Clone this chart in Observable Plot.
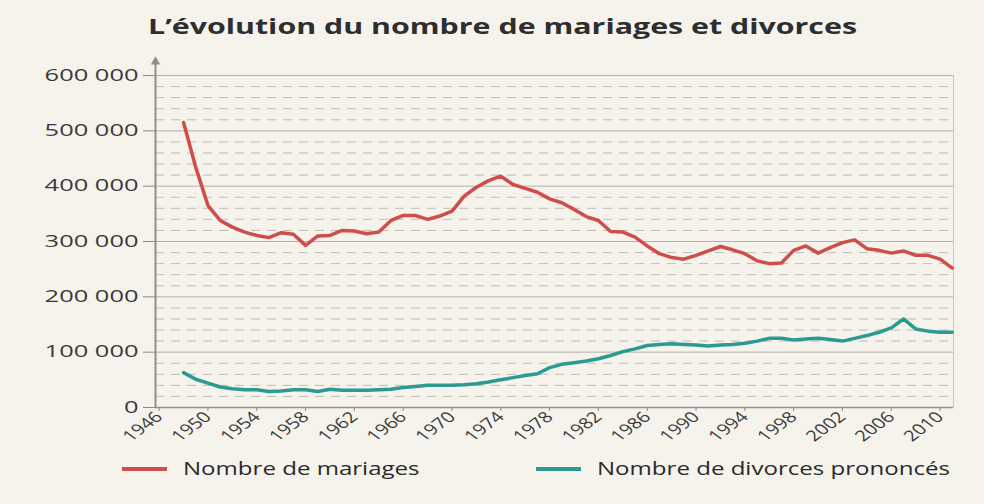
<!DOCTYPE html>
<html>
<head>
<meta charset="utf-8">
<script src="https://cdn.jsdelivr.net/npm/d3@7"></script>
<script src="https://cdn.jsdelivr.net/npm/@observablehq/plot@0.6"></script>
<style>
  html, body { margin: 0; padding: 0; }
  body { width: 984px; height: 504px; overflow: hidden; background: #f5f3eb; font-family: "Open Sans", sans-serif; }
  #title { position: relative; height: 50px; }
  #title span { position: absolute; left: 148px; top: 12px; font-weight: 700; font-size: 21px; color: #2e2e2e; white-space: nowrap; transform-origin: 0 50%; }
  #chart { height: 400px; }
  #legend { position: relative; height: 54px; }
  .sw { position: absolute; height: 4px; top: 17px; }
  .lt { position: absolute; top: 5px; font-size: 18px; color: #2a2a2a; white-space: nowrap; transform-origin: 0 50%; line-height: 26px; }
</style>
</head>
<body>
<div id="title"><span id="t">L’évolution du nombre de mariages et divorces</span></div>
<div id="chart"></div>
<div id="legend"></div>
<script>
// ---- data (x positions as read on the chart's own year axis) ----
const years = [1948,1949,1950,1951,1952,1953,1954,1955,1956,1957,1958,1959,1960,1961,1962,1963,
  1964,1965,1966,1967,1968,1969,1970,1971,1972,1973,1974,1975,1976,1977,1978,1979,1980,1981,
  1982,1983,1984,1985,1986,1987,1988,1989,1990,1991,1992,1993,1994,1995,1996,1997,1998,1999,
  2000,2001,2002,2003,2004,2005,2006,2007,2008,2009,2010,2011];
const mariages = [515000,434000,365000,338000,326000,317000,311000,307000,316000,313000,293000,310000,
  311000,320000,319000,314000,317000,338000,347000,347000,340000,346000,355000,382000,398000,410000,
  418000,403000,396000,389000,377000,370000,358000,345000,338000,318000,317000,308000,292000,278000,
  271000,268000,275000,283000,291000,285000,278000,265000,260000,261000,284000,292000,279000,289000,
  298000,303000,287000,284000,279000,283000,275000,275000,268000,252000];
const divorces = [63000,51000,44000,37000,34000,32000,32000,29000,30000,32000,32000,29000,33000,31000,
  31000,31000,32000,33000,36000,38000,40000,40000,40000,41000,43000,46000,50000,54000,58000,61000,
  72000,78000,81000,84000,88000,94000,101000,106000,112000,114000,115000,114000,113000,111000,113000,
  114000,116000,120000,125000,125000,122000,124000,125000,123000,120000,125000,130000,136000,144000,
  160000,142000,138000,136000,136000];
const seriesNames = ["Nombre de mariages", "Nombre de divorces prononcés"];
const seriesColors = ["#cf4e4b", "#2b9a93"];
const xTicks = [1946,1950,1954,1958,1962,1966,1970,1974,1978,1982,1986,1990,1994,1998,2002,2006,2010];
const yTicks = [0,100000,200000,300000,400000,500000,600000];
const yMinorTicks = [20000,40000,60000,80000,120000,140000,160000,180000,220000,240000,260000,280000,
  320000,340000,360000,380000,420000,440000,460000,480000,520000,540000,560000,580000];

const xMin = 1945.7, xMax = 2011.1;
const rows = years.flatMap((yr, i) => [
  {year: yr, value: mariages[i], serie: seriesNames[0]},
  {year: yr, value: divorces[i], serie: seriesNames[1]}
]);
const spaceFmt = d => d3.format(",")(d).replace(/,/g, " ");

const chart = Plot.plot({
  width: 984,
  height: 400,
  marginLeft: 155,
  marginRight: 31,
  marginTop: 25,
  marginBottom: 43,
  style: {background: "transparent", fontFamily: "Open Sans, sans-serif", fontSize: "15px", color: "#3a3a3a", overflow: "visible"},
  x: {domain: [xMin, xMax]},
  y: {domain: [0, 600000]},
  color: {domain: seriesNames, range: seriesColors},
  marks: [
    Plot.ruleY(yMinorTicks, {stroke: "#bdbdb4", strokeWidth: 1, strokeDasharray: "9,7"}),
    Plot.ruleY(yTicks.slice(1), {stroke: "#b3b3aa", strokeWidth: 1}),
    Plot.ruleX([xMax], {y1: 0, y2: 600000, stroke: "#c9c9c0", strokeWidth: 1}),
    Plot.axisY({ticks: yTicks, tickFormat: spaceFmt, tickSize: 12, tickPadding: 5, stroke: "#8a8a8a", fill: "#3a3a3a", fontSize: 16, label: null}),
    Plot.axisX({ticks: xTicks, tickFormat: d => String(d), tickRotate: -45, tickSize: 4, tickPadding: 3, stroke: "#8a8a8a", fill: "#3a3a3a", label: null}),
    Plot.ruleY([0], {stroke: "#8f8f8f", strokeWidth: 1.5}),
    Plot.line(rows, {x: "year", y: "value", stroke: "serie", strokeWidth: 3.5, strokeLinejoin: "round"}),
    Plot.ruleX([xMin], {y1: 0, y2: 622000, stroke: "#8f8f8f", strokeWidth: 2}),
    Plot.dot([xMin], {x: d => d, y: () => 625000, symbol: "triangle", r: 3.5, fill: "#8f8f8f", stroke: null})
  ]
});
document.getElementById("chart").appendChild(chart);

// horizontal stretch of the scanned typography
const yLabels = chart.querySelectorAll('g[aria-label="y-axis tick label"] text');
let w600 = 0;
yLabels.forEach(t => { if (t.textContent === "600 000") w600 = t.getComputedTextLength(); });
const sy = w600 ? 94 / w600 : 1.4;
yLabels.forEach(t => {
  const tr = t.getAttribute("transform") || "";
  t.setAttribute("transform", tr + ` scale(${sy},1)`);
});
const xLabels = chart.querySelectorAll('g[aria-label="x-axis tick label"] text');
xLabels.forEach(t => {
  const tr = t.getAttribute("transform") || "";
  t.setAttribute("transform", tr.replace(/rotate/, `scale(1.35,1) rotate`));
});

// title
const t = document.getElementById("t");
const tw = t.getBoundingClientRect().width;
t.style.transform = `scaleX(${709 / tw})`;

// legend
const leg = document.getElementById("legend");
const swX = [122, 536], txX = [183, 597];
const spans = [];
seriesNames.forEach((name, i) => {
  const sw = document.createElement("div");
  sw.className = "sw";
  sw.style.left = swX[i] + "px";
  sw.style.width = "45px";
  sw.style.background = seriesColors[i];
  leg.appendChild(sw);
  const s = document.createElement("span");
  s.className = "lt";
  s.style.left = txX[i] + "px";
  s.textContent = name;
  leg.appendChild(s);
  spans.push(s);
});
const ls = 353 / spans[1].getBoundingClientRect().width;
spans.forEach(s => s.style.transform = `scaleX(${ls})`);
</script>
</body>
</html>
